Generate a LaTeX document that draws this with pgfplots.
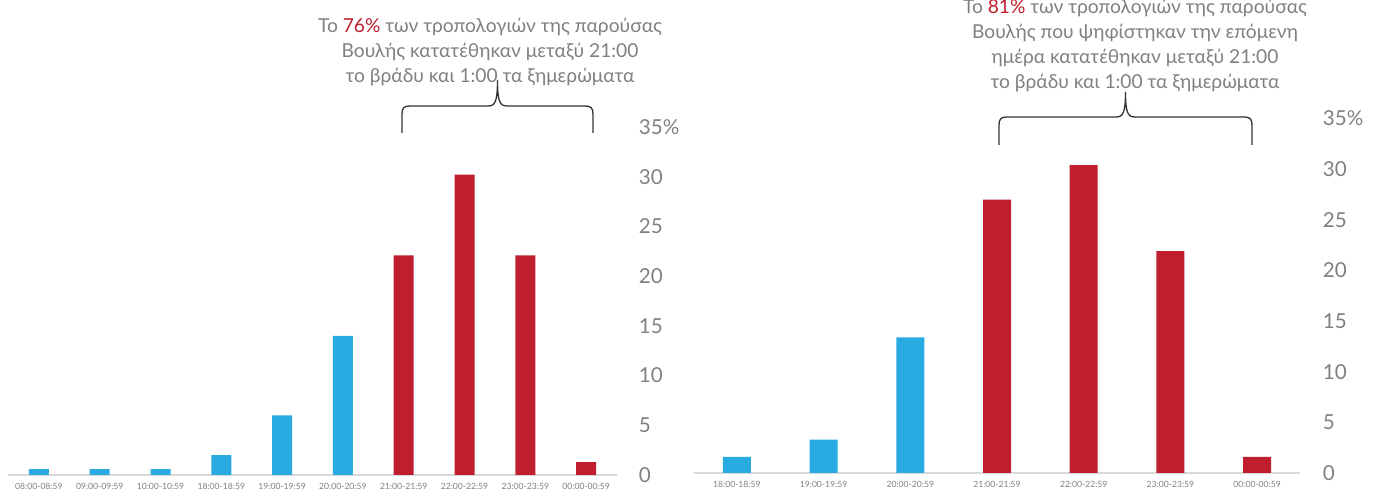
\documentclass[border=0pt]{standalone}
\usepackage{pgfplots}
\pgfplotsset{compat=1.18}
\usepackage{fontspec}
\setmainfont{Lato}
\definecolor{barblue}{HTML}{29ABE2}
\definecolor{barred}{HTML}{BE1E2D}
\definecolor{txtgray}{HTML}{808080}
\definecolor{axgray}{HTML}{D9D9D9}

\pgfplotsset{
  hourbars/.style={
    scale only axis,
    ybar, bar shift=0pt,
    ymin=0, ymax=35,
    axis x line=bottom, axis y line=right,
    x axis line style={-, draw=axgray, line width=1pt},
    y axis line style={draw=none},
    major tick length=0pt,
    ytick={0,5,10,15,20,25,30,35},
    yticklabels={0,5,10,15,20,25,30,35\%},
    yticklabel style={anchor=west, inner sep=0pt, xshift=11pt, text=txtgray,
      font=\fontsize{10.3}{12}\selectfont},
    xticklabel style={anchor=north, inner sep=0pt, yshift=-4pt, text=txtgray,
      font=\fontsize{4.3}{5}\selectfont},
    clip=false,
  },
}

\begin{document}
\begin{tikzpicture}
\useasboundingbox (0,0) rectangle (686.5pt,245.5pt);

% left panel: all amendments
\begin{axis}[hourbars,
  at={(4.25pt,8pt)}, anchor=south west,
  width=304pt, height=174pt,
  xmin=-0.5, xmax=9.5, bar width=10pt,
  xtick={0,1,2,3,4,5,6,7,8,9},
  xticklabels={08:00-08:59,09:00-09:59,10:00-10:59,18:00-18:59,19:00-19:59,
    20:00-20:59,21:00-21:59,22:00-22:59,23:00-23:59,00:00-00:59}]
\addplot[fill=barblue, draw=none] coordinates {(0,0.6) (1,0.6) (2,0.6) (3,2) (4,6) (5,14)};
\addplot[fill=barred, draw=none] coordinates {(6,22.1) (7,30.2) (8,22.1) (9,1.3)};
\end{axis}

% right panel: amendments of bills voted the next day
\begin{axis}[hourbars,
  at={(346.75pt,9pt)}, anchor=south west,
  width=303.5pt, height=177.25pt,
  xmin=-0.5, xmax=6.5, bar width=14pt,
  xtick={0,1,2,3,4,5,6},
  xticklabels={18:00-18:59,19:00-19:59,20:00-20:59,21:00-21:59,22:00-22:59,
    23:00-23:59,00:00-00:59}]
\addplot[fill=barblue, draw=none] coordinates {(0,1.6) (1,3.3) (2,13.4)};
\addplot[fill=barred, draw=none] coordinates {(3,27) (4,30.4) (5,21.9) (6,1.6)};
\end{axis}

% annotations in pixel coordinates
\begin{scope}[x=0.5pt, y=-0.5pt, yshift=245.5pt]
\node[align=center, text=txtgray, font=\fontsize{9.6}{12.5}\selectfont] at (490,52)
  {Το \textcolor{barred}{76\%} των τροπολογιών της παρούσας\\
   Βουλής κατατέθηκαν μεταξύ 21:00\\
   το βράδυ και 1:00 τα ξημερώματα};
\node[align=center, text=txtgray, font=\fontsize{9.6}{12.5}\selectfont] at (1135,46)
  {Το \textcolor{barred}{81\%} των τροπολογιών της παρούσας\\
   Βουλής που ψηφίστηκαν την επόμενη\\
   ημέρα κατατέθηκαν μεταξύ 21:00\\
   το βράδυ και 1:00 τα ξημερώματα};
\draw[line width=0.65pt, draw=black!80]
  (402,133) -- (402,114) .. controls (402,108) and (404,106) .. (410,106)
  -- (488,106) .. controls (495,106) and (497.5,102) .. (497.5,80)
  .. controls (497.5,102) and (500,106) .. (507,106)
  -- (585,106) .. controls (591,106) and (593,108) .. (593,114) -- (593,133);
\draw[line width=0.65pt, draw=black!80]
  (999,145) -- (999,125) .. controls (999,119) and (1001,117) .. (1007,117)
  -- (1116,117) .. controls (1123,117) and (1125.5,113) .. (1125.5,92)
  .. controls (1125.5,113) and (1128,117) .. (1135,117)
  -- (1244,117) .. controls (1250,117) and (1252,119) .. (1252,125) -- (1252,145);
\end{scope}
\end{tikzpicture}
\end{document}
